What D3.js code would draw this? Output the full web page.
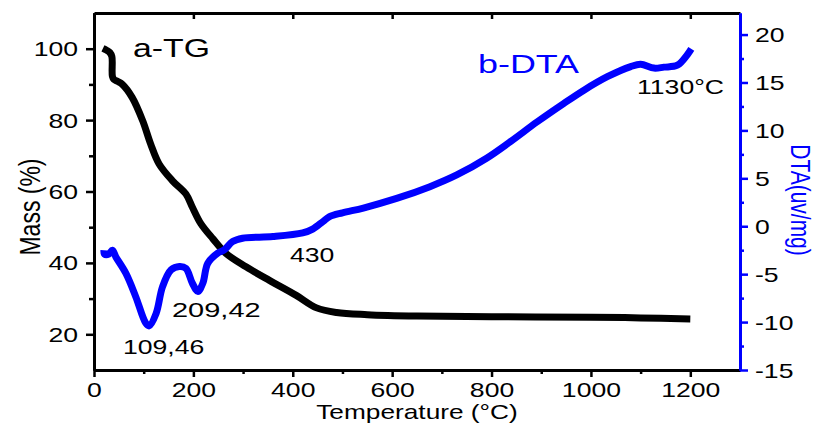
<!DOCTYPE html>
<html>
<head>
<meta charset="utf-8">
<script src="https://cdn.jsdelivr.net/npm/d3@7"></script>
<style>
  body { margin: 0; background: #fff; }
  svg { display: block; }
  text { font-family: "Liberation Sans", Arial, sans-serif; }
</style>
</head>
<body>
<svg id="chart" width="816" height="425"></svg>
<script>
// TG curve (mass %)
const tgTemp = [18, 25, 32, 36, 37, 40, 48, 57, 77, 98, 114, 131, 158, 185, 198, 215, 239, 266, 306, 353, 407, 448, 488, 550, 650, 800, 1000, 1100, 1200];
const tgMass = [100.1, 99.6, 98.9, 97.8, 92.3, 91.4, 90.8, 90, 86.3, 79.8, 73.3, 67.7, 63, 59.3, 55.6, 51, 46.8, 42.6, 38.9, 35.1, 30.9, 27.4, 26.1, 25.5, 25.1, 24.9, 24.8, 24.6, 24.3];

// DTA curve (uv/mg)
const dtaTemp = [20, 21, 30, 37, 44, 64, 84, 104, 111, 125, 138, 155, 172, 185, 198, 209, 219, 229, 249, 262, 279, 299, 360, 420, 440, 461, 474, 500, 542, 609, 676, 730, 790, 838, 892, 945, 986, 1033, 1080, 1100, 1127, 1147, 1174, 1194, 1202];
const dtaVal = [-2.5, -2.9, -2.9, -2.5, -3.2, -4.9, -7.35, -10.1, -10.4, -9.1, -6.3, -4.56, -4.2, -4.4, -5.95, -6.8, -5.95, -3.86, -2.8, -2.47, -1.6, -1.25, -1.08, -0.7, -0.3, 0.5, 1.0, 1.4, 1.9, 2.9, 4.13, 5.35, 7.1, 8.83, 10.9, 12.8, 14.2, 15.6, 16.66, 16.9, 16.5, 16.6, 16.8, 17.9, 18.5];

const tempTicks = [0, 200, 400, 600, 800, 1000, 1200];
const tempMinor = [100, 300, 500, 700, 900, 1100];
const massTicks = [20, 40, 60, 80, 100];
const massMinor = [30, 50, 70, 90];
const dtaTicks = [20, 15, 10, 5, 0, -5, -10, -15];
const dtaMinor = [17.5, 12.5, 7.5, 2.5, -2.5, -7.5, -12.5];

const svg = d3.select("#chart");
const width = 816, height = 425;
const margin = {top: 13, right: 76, bottom: 55, left: 94};
const sx = 1.33; // the reference text is stretched sideways
const blue = "#0000ff";

const x = d3.scaleLinear().domain([0, 1300]).range([margin.left, width - margin.right]);
const yMass = d3.scaleLinear().domain([10, 110]).range([height - margin.bottom, margin.top]);
const yDta = d3.scaleLinear().domain([-15, 22.25]).range([height - margin.bottom, margin.top]);

const bottom = height - margin.bottom, right = width - margin.right;
const plain = d => String(d);

function styleAxis(g, color) {
  g.select(".domain").attr("stroke", color).attr("stroke-width", 3);
  g.selectAll(".tick line").attr("stroke", color).attr("stroke-width", 2.5);
  g.selectAll(".tick text").attr("fill", "#000").attr("font-size", 20);
}

// minor ticks first
svg.append("g").attr("transform", `translate(0,${bottom})`)
  .call(d3.axisBottom(x).tickValues(tempMinor).tickSize(4).tickSizeOuter(0).tickFormat(""))
  .call(g => styleAxis(g, "#000"));
svg.append("g").attr("transform", `translate(${margin.left},0)`)
  .call(d3.axisLeft(yMass).tickValues(massMinor).tickSize(5).tickSizeOuter(0).tickFormat(""))
  .call(g => styleAxis(g, "#000"));

// top frame with inward ticks
svg.append("g").attr("transform", `translate(0,${margin.top})`)
  .call(d3.axisTop(x).tickValues(tempTicks).tickSize(-6).tickSizeOuter(0).tickFormat(""))
  .call(g => styleAxis(g, "#000"));

// bottom axis
svg.append("g").attr("transform", `translate(0,${bottom})`)
  .call(d3.axisBottom(x).tickValues(tempTicks).tickSize(7).tickSizeOuter(0).tickFormat(plain))
  .call(g => styleAxis(g, "#000"))
  .call(g => g.selectAll(".tick text").attr("y", 27).attr("dy", null)
    .attr("transform", `scale(${sx},1)`));

// left axis
svg.append("g").attr("transform", `translate(${margin.left},0)`)
  .call(d3.axisLeft(yMass).tickValues(massTicks).tickSize(8).tickSizeOuter(0).tickFormat(plain))
  .call(g => styleAxis(g, "#000"))
  .call(g => g.selectAll(".tick text").attr("x", -16 / sx).attr("dy", "0.35em")
    .attr("transform", `scale(${sx},1)`));

// right axis (blue)
svg.append("g").attr("transform", `translate(${right},0)`)
  .call(d3.axisRight(yDta).tickValues(dtaMinor).tickSize(4).tickSizeOuter(0).tickFormat(""))
  .call(g => styleAxis(g, blue));
svg.append("g").attr("transform", `translate(${right},0)`)
  .call(d3.axisRight(yDta).tickValues(dtaTicks).tickSize(8).tickSizeOuter(0).tickFormat(plain))
  .call(g => styleAxis(g, blue))
  .call(g => g.selectAll(".tick text").attr("x", 15 / sx).attr("dy", "0.35em")
    .attr("transform", `scale(${sx},1)`));

// curves
const tgLine = d3.line()
  .x(i => x(tgTemp[i]))
  .y(i => yMass(tgMass[i]))
  .curve(d3.curveCatmullRom.alpha(0.5));
const dtaLine = d3.line()
  .x(i => x(dtaTemp[i]))
  .y(i => yDta(dtaVal[i]))
  .curve(d3.curveCatmullRom.alpha(0.5));

svg.append("path")
  .attr("d", tgLine(d3.range(tgTemp.length)))
  .attr("fill", "none").attr("stroke", "#000").attr("stroke-width", 7)
  .attr("stroke-linejoin", "round");
svg.append("path")
  .attr("d", dtaLine(d3.range(dtaTemp.length)))
  .attr("fill", "none").attr("stroke", blue).attr("stroke-width", 7)
  .attr("stroke-linejoin", "round");

// texts
function label(txt, px, py, size, color, anchor, stretch) {
  svg.append("text")
    .attr("transform", `translate(${px},${py}) scale(${stretch || sx},1)`)
    .attr("font-size", size).attr("fill", color)
    .attr("text-anchor", anchor || "start")
    .text(txt);
}
label("a-TG", 133, 57, 26, "#000", "start", 1.3);
label("b-DTA", 478, 73, 26, blue, "start", 1.38);
label("1130°C", 637, 94, 20, "#000");
label("430", 290, 262, 20, "#000");
label("209,42", 172, 317, 20, "#000", "start", 1.45);
label("109,46", 123, 354, 20, "#000");
label("Temperature (°C)", 417, 419, 21, "#000", "middle", 1.25);

svg.append("text")
  .attr("transform", `translate(40,207) rotate(-90) scale(1,1.3)`)
  .attr("font-size", 23).attr("text-anchor", "middle").attr("fill", "#000")
  .text("Mass (%)");
svg.append("text")
  .attr("transform", `translate(791,200) rotate(90) scale(1,1.3)`)
  .attr("font-size", 21).attr("text-anchor", "middle").attr("fill", blue)
  .text("DTA(uv/mg)");
</script>
</body>
</html>
